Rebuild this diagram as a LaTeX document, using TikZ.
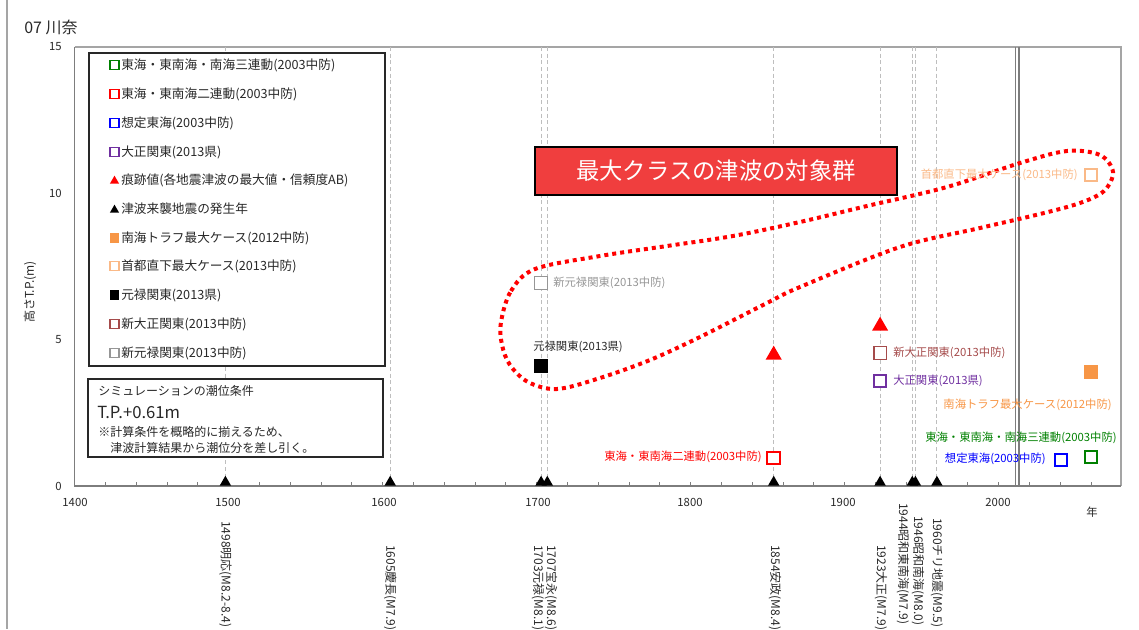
\documentclass[tikz,border=0pt]{standalone}
\usepackage{fontspec}
\setmainfont{Noto Sans CJK JP}
\usetikzlibrary{shapes.geometric}

\definecolor{txtgray}{RGB}{40,40,40}
\definecolor{gridgray}{RGB}{190,190,190}
\definecolor{axgray}{RGB}{125,125,125}
\definecolor{framegray}{RGB}{165,165,165}
\definecolor{sqgreen}{RGB}{0,128,0}
\definecolor{sqred}{RGB}{255,0,0}
\definecolor{sqblue}{RGB}{0,0,255}
\definecolor{sqpurple}{RGB}{112,48,160}
\definecolor{sqorange}{RGB}{247,150,70}
\definecolor{sqpeach}{RGB}{250,185,135}
\definecolor{sqbrown}{RGB}{165,75,75}
\definecolor{sqgray}{RGB}{150,150,150}
\definecolor{boxred}{RGB}{240,62,62}

\tikzset{
	opensq/.style={rectangle, draw=#1, line width=1.5pt, fill=white, minimum size=9.5pt, inner sep=0pt},
	fillsq/.style={rectangle, fill=#1, minimum size=10.5pt, inner sep=0pt},
	lgopen/.style={rectangle, draw=#1, line width=1.2pt, minimum size=6.5pt, inner sep=0pt},
	lgfill/.style={rectangle, fill=#1, minimum size=7pt, inner sep=0pt},
	lgtri/.style={regular polygon, regular polygon sides=3, fill=#1, minimum size=8pt, inner sep=0pt},
	bigtri/.style={regular polygon, regular polygon sides=3, fill=#1, minimum size=14pt, inner sep=0pt},
	axtri/.style={regular polygon, regular polygon sides=3, fill=black, minimum size=10pt, inner sep=0pt, anchor=side 2},
	evline/.style={draw=gridgray, line width=0.8pt, dash pattern=on 3pt off 2pt},
	lgtext/.style={anchor=west, inner sep=0pt, text=txtgray, font=\fontsize{9.5}{11}\selectfont},
	ptlabel/.style={inner sep=0pt, font=\fontsize{8.5}{10}\selectfont},
	evlabel/.style={rotate=-90, anchor=west, inner sep=0pt, text=txtgray, font=\fontsize{9}{10}\selectfont},
	yrlabel/.style={inner sep=0pt, text=txtgray, font=\fontsize{8.5}{10}\selectfont},
	notetext/.style={anchor=west, inner sep=0pt, text=txtgray, font=\fontsize{9}{10}\selectfont},
}

\begin{document}
\begin{tikzpicture}[x=0.75pt, y=-0.75pt]
	\useasboundingbox (0,0) rectangle (1139,629);
	\clip (0,0) rectangle (1139,629);
	
	% page edge and title
	\draw[framegray, line width=1.2pt] (7,0) -- (7,629);
	\node (title) [anchor=west, inner sep=0pt, text=txtgray, font=\fontsize{12}{14}\selectfont] at (24,27) {07 川奈};
	\node (ylab) [rotate=90, inner sep=0pt, text=txtgray, font=\fontsize{9}{10}\selectfont] at (30,292) {高さT.P.(m)};
	
	% plot frame
	\draw[framegray, line width=1.2pt] (74.5,47) -- (1121,47) -- (1121,486);
	
	% event years
	\draw[evline] (225.4,47) -- (225.4,486);
	\draw[evline] (390.2,47) -- (390.2,486);
	\draw[evline] (541.1,47) -- (541.1,486);
	\draw[evline] (547.3,47) -- (547.3,486);
	\draw[evline] (773.7,47) -- (773.7,486);
	\draw[evline] (880.1,47) -- (880.1,486);
	\draw[evline] (912.3,47) -- (912.3,486);
	\draw[evline] (915.4,47) -- (915.4,486);
	\draw[evline] (936.9,47) -- (936.9,486);
	
	% 2011
	\draw[axgray, line width=1.2pt] (1015.5,47) -- (1015.5,486);
	\draw[axgray, line width=1.2pt] (1019,47) -- (1019,486);
	
	% axes
	\draw[axgray, line width=1.1pt] (74.5,47) -- (74.5,486) -- (1121,486);
	\foreach \k in {1,...,33}
		\draw[axgray, line width=0.6pt] (74.5+30.8*\k,486) -- ++(0,-4);
	
	\node (y15) [yrlabel, anchor=east] at (62,47) {15};
	\node (y10) [yrlabel, anchor=east] at (62,193) {10};
	\node (y5) [yrlabel, anchor=east] at (62,340) {5};
	\node (y0) [yrlabel, anchor=east] at (62,486) {0};
	
	\node (x1400) [yrlabel] at (75,502) {1400};
	\node (x1500) [yrlabel] at (228,502) {1500};
	\node (x1600) [yrlabel] at (384,502) {1600};
	\node (x1700) [yrlabel] at (538,502) {1700};
	\node (x1800) [yrlabel] at (690,502) {1800};
	\node (x1900) [yrlabel] at (843,502) {1900};
	\node (x2000) [yrlabel] at (998,502) {2000};
	\node (xnen) [yrlabel] at (1092,512) {年};
	
	% triangles on the axis
	\node (t1498) [axtri] at (225.4,486) {};
	\node (t1605) [axtri] at (390.2,486) {};
	\node (t1703) [axtri] at (541.1,486) {};
	\node (t1707) [axtri] at (547.3,486) {};
	\node (t1854) [axtri] at (773.7,486) {};
	\node (t1923) [axtri] at (880.1,486) {};
	\node (t1944) [axtri] at (912.3,486) {};
	\node (t1946) [axtri] at (915.4,486) {};
	\node (t1960) [axtri] at (936.9,486) {};
	
	\node (e1498) [evlabel] at (225.4,521) {1498明応(M8.2-8.4)};
	\node (e1605) [evlabel] at (390.2,545) {1605慶長(M7.9)};
	\node (e1703) [evlabel] at (538,545) {1703元禄(M8.1)};
	\node (e1707) [evlabel] at (551,545) {1707宝永(M8.6)};
	\node (e1854) [evlabel] at (775,545) {1854安政(M8.4)};
	\node (e1923) [evlabel] at (881,545) {1923大正(M7.9)};
	\node (e1944) [evlabel] at (903,503) {1944昭和東南海(M7.9)};
	\node (e1946) [evlabel] at (918,516) {1946昭和南海(M8.0)};
	\node (e1960) [evlabel] at (937,518) {1960チリ地震(M9.5)};
	
	% legend
	\draw[txtgray, line width=1.1pt, fill=white] (89,53) rectangle (385,366);
	\node (lg1) [lgopen=sqgreen] at (114.5,65) {};
	\node [lgtext] at (121,65) {東海・東南海・南海三連動(2003中防)};
	\node (lg2) [lgopen=sqred] at (114.5,94) {};
	\node [lgtext] at (121,94) {東海・東南海二連動(2003中防)};
	\node (lg3) [lgopen=sqblue] at (114.5,123) {};
	\node [lgtext] at (121,123) {想定東海(2003中防)};
	\node (lg4) [lgopen=sqpurple] at (114.5,152) {};
	\node [lgtext] at (121,152) {大正関東(2013県)};
	\node (lg5) [lgtri=sqred] at (114.5,181) {};
	\node [lgtext] at (121,180) {痕跡値(各地震津波の最大値・信頼度AB)};
	\node (lg6) [lgtri=black] at (114.5,210) {};
	\node [lgtext] at (121,209) {津波来襲地震の発生年};
	\node (lg7) [lgfill=sqorange] at (114.5,238) {};
	\node [lgtext] at (121,238) {南海トラフ最大ケース(2012中防)};
	\node (lg8) [lgopen=sqpeach] at (114.5,266) {};
	\node [lgtext] at (121,266) {首都直下最大ケース(2013中防)};
	\node (lg9) [lgfill=black] at (114.5,295) {};
	\node [lgtext] at (121,295) {元禄関東(2013県)};
	\node (lg10) [lgopen=sqbrown] at (114.5,324) {};
	\node [lgtext] at (121,324) {新大正関東(2013中防)};
	\node (lg11) [lgopen=sqgray] at (114.5,353) {};
	\node [lgtext] at (121,353) {新元禄関東(2013中防)};
	
	% tide note
	\draw[txtgray, line width=1.1pt, fill=white] (88,379) rectangle (383,457);
	\node (note1) [notetext] at (98,391) {シミュレーションの潮位条件};
	\node (note2) [notetext, font=\fontsize{12.5}{14}\selectfont] at (97,412) {T.P.+0.61m};
	\node (note3) [notetext] at (98,432) {※計算条件を概略的に揃えるため、};
	\node (note4) [notetext] at (110,448) {津波計算結果から潮位分を差し引く。};
	
	% max class group
	\node (maxbox) [draw=black, line width=2pt, fill=boxred, text=white, minimum width=271.5pt, minimum height=36pt, font=\fontsize{17.5}{20}\selectfont] at (716,171) {最大クラスの津波の対象群};
	\draw[sqred, line width=3pt, dash pattern=on 3pt off 3pt] plot[smooth cycle, tension=0.55] coordinates {
		(501,322) (511,291) (535,269) (600,256) (667,246) (733,236) (800,222) (867,206)
		(947,187) (1020,163) (1067,151) (1100,155) (1113,172) (1104,191) (1080,203)
		(1040,214) (980,228) (900,247) (800,287) (767,303) (700,337) (650,360) (600,378)
		(557,389) (528,382) (510,365) (502,345)};
	
	% data
	\node (shingen) [opensq=sqgray, line width=1.2pt] at (541,283) {};
	\node [ptlabel, anchor=west, text=sqgray] at (553,283) {新元禄関東(2013中防)};
	\node (genroku) [fillsq=black] at (541,366) {};
	\node [ptlabel, anchor=west, text=txtgray] at (533,347) {元禄関東(2013県)};
	\node (tri1854) [bigtri=sqred] at (773.7,355) {};
	\node (ren2) [opensq=sqred] at (773.7,458) {};
	\node [ptlabel, anchor=east, text=sqred] at (762,457) {東海・東南海二連動(2003中防)};
	\node (tri1923) [bigtri=sqred] at (880.1,326) {};
	\node (shintai) [opensq=sqbrown, line width=1.2pt] at (880.1,353) {};
	\node [ptlabel, anchor=west, text=sqbrown] at (893,353) {新大正関東(2013中防)};
	\node (taisho) [opensq=sqpurple] at (880.1,381) {};
	\node [ptlabel, anchor=west, text=sqpurple] at (893,381) {大正関東(2013県)};
	\node (shuto) [opensq=sqpeach] at (1091,175) {};
	\node [ptlabel, anchor=east, text=sqpeach] at (1078,175) {首都直下最大ケース(2013中防)};
	\node (nankai) [fillsq=sqorange] at (1091,372) {};
	\node [ptlabel, anchor=east, text=sqorange] at (1112,405) {南海トラフ最大ケース(2012中防)};
	\node (ren3) [opensq=sqgreen] at (1091,457) {};
	\node [ptlabel, anchor=east, text=sqgreen] at (1117,438) {東海・東南海・南海三連動(2003中防)};
	\node (tokai) [opensq=sqblue] at (1061,460) {};
	\node [ptlabel, anchor=east, text=sqblue] at (1046,459) {想定東海(2003中防)};
\end{tikzpicture}
\end{document}
